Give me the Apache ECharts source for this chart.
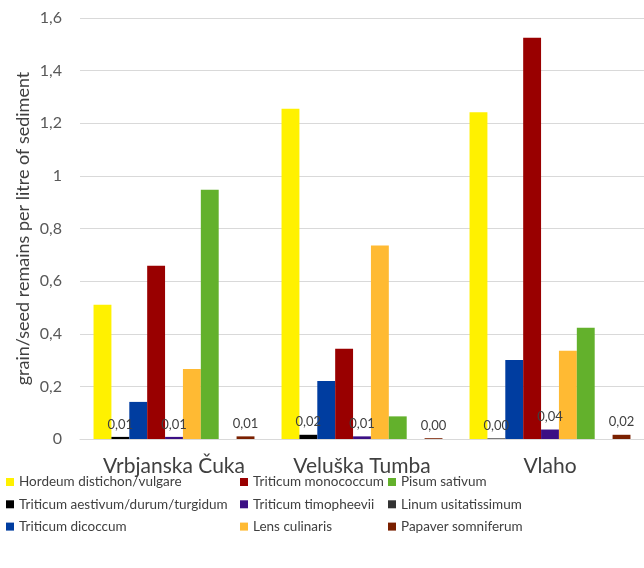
<!DOCTYPE html>
<html>
<head>
<meta charset="utf-8">
<script src="https://cdn.jsdelivr.net/npm/echarts@6/dist/echarts.min.js"></script>
<style>html,body{margin:0;padding:0;background:#fff}#c{width:644px;height:568px}</style>
</head>
<body>
<div id="c"></div>
<script>
const categories = ['Vrbjanska Čuka', 'Veluška Tumba', 'Vlaho'];
const hordeum = [0.51, 1.255, 1.242];
const aestivum = [0.008, 0.016, 0.002];
const dicoccum = [0.141, 0.22, 0.30];
const monococcum = [0.658, 0.343, 1.525];
const timopheevii = [0.008, 0.01, 0.036];
const lens = [0.266, 0.735, 0.335];
const pisum = [0.947, 0.086, 0.423];
const linum = [0, 0, 0];
const papaver = [0.01, 0.003, 0.016];
const yTicks = ['0', '0,2', '0,4', '0,6', '0,8', '1', '1,2', '1,4', '1,6'];

const FONT = 'Lato';
const fmt = p => p.value.toFixed(2).replace('.', ',');
const lbl = {show: true, position: 'top', distance: 6, formatter: fmt, fontFamily: FONT, fontSize: 13, color: '#404040'};

function s(name, data, color, withLabel) {
  const o = {name, type: 'bar', data, barGap: '0%', barCategoryGap: '14.4%', itemStyle: {color}};
  if (withLabel) o.label = lbl;
  return o;
}

const series = [
  s('Hordeum distichon/vulgare', hordeum, '#FFF100'),
  s('Triticum aestivum/durum/turgidum', aestivum, '#000000', true),
  s('Triticum dicoccum', dicoccum, '#003DA0'),
  s('Triticum monococcum', monococcum, '#990000'),
  s('Triticum timopheevii', timopheevii, '#3B0F84', true),
  s('Lens culinaris', lens, '#FFBA33'),
  s('Pisum sativum', pisum, '#63B12C'),
  s('Linum usitatissimum', linum, '#333333'),
  s('Papaver somniferum', papaver, '#7A2000', true)
];

const legendBase = {orient: 'vertical', top: 475, padding: 0, itemWidth: 8, itemHeight: 8, itemGap: 8.3, icon: 'rect',
  textStyle: {fontFamily: FONT, fontSize: 13.5, color: '#404040', lineHeight: 14}, selectedMode: false};

const chart = echarts.init(document.getElementById('c'), null, {renderer: 'canvas'});
chart.setOption({
  animation: false,
  backgroundColor: '#fff',
  grid: {left: 80, right: 0, top: 18, bottom: 129},
  legend: [
    Object.assign({}, legendBase, {left: 6, data: [series[0].name, series[1].name, series[2].name]}),
    Object.assign({}, legendBase, {left: 240, data: [series[3].name, series[4].name, series[5].name]}),
    Object.assign({}, legendBase, {left: 388, data: [series[6].name, series[7].name, series[8].name]})
  ],
  xAxis: {
    type: 'category', data: categories,
    axisTick: {show: false},
    axisLine: {lineStyle: {color: '#D9D9D9', width: 1}},
    axisLabel: {fontFamily: FONT, fontSize: 21, color: '#404040', margin: 17}
  },
  yAxis: {
    type: 'value', min: 0, max: 1.6, interval: 0.2,
    name: 'grain/seed remains per litre of sediment', nameLocation: 'middle', nameGap: 48,
    nameMoveOverlap: false,
    nameTextStyle: {fontFamily: FONT, fontSize: 18, color: '#404040'},
    axisLine: {show: false}, axisTick: {show: false},
    splitLine: {lineStyle: {color: '#D9D9D9', width: 1}},
    axisLabel: {fontFamily: FONT, fontSize: 16, color: '#595959', margin: 18,
      formatter: v => yTicks[Math.round(v / 0.2)]}
  },
  series
});
</script>
</body>
</html>
